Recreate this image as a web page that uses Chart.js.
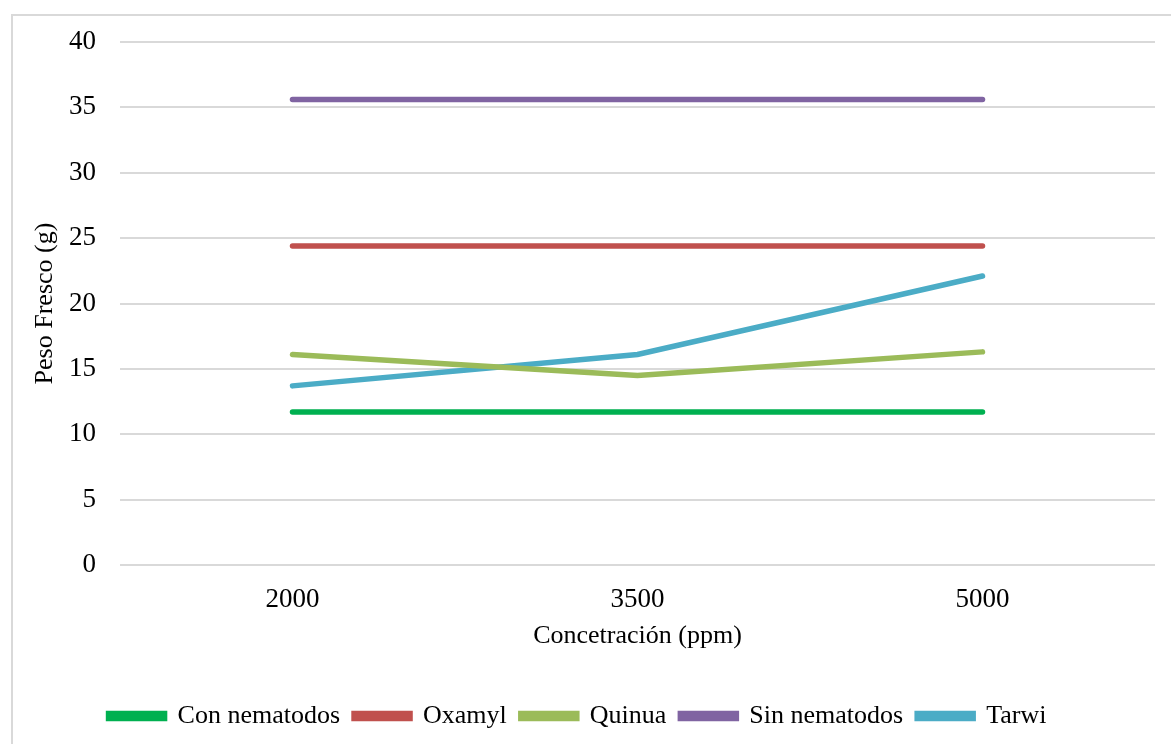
<!DOCTYPE html>
<html>
<head>
<meta charset="utf-8">
<script src="https://cdn.jsdelivr.net/npm/chart.js@4"></script>
<style>
  html, body { margin: 0; padding: 0; background: #fff; overflow: hidden; }
  #frame { position: absolute; left: 11px; top: 14px; width: 1200px; height: 800px; border: 2px solid #d9d9d9; }
  #wrap { position: absolute; left: 0; top: 0; width: 1171px; height: 744px; }
</style>
</head>
<body>
<div id="frame"></div>
<div id="wrap"><canvas id="pesoChart"></canvas></div>
<script>
// categories (ppm)
const concentraciones = ['2000', '3500', '5000'];

// peso fresco (g) per treatment
const conNematodos = [11.7, 11.7, 11.7];
const oxamyl = [24.4, 24.4, 24.4];
const quinua = [16.1, 14.5, 16.3];
const sinNematodos = [35.6, 35.6, 35.6];
const tarwi = [13.7, 16.1, 22.1];

const serif = '"Liberation Serif", "Times New Roman", serif';

function serie(label, data, color) {
    return {
        label: label,
        data: data,
        borderColor: color,
        backgroundColor: color,
        borderWidth: 5.5,
        borderCapStyle: 'round',
        pointRadius: 0,
        pointHoverRadius: 0,
        tension: 0
    };
}

const ctx = document.getElementById('pesoChart');

let pesoChart = new Chart(ctx, {
    type: 'line',
    data: {
        labels: concentraciones,
        datasets: [
            serie('Con nematodos', conNematodos, '#00b050'),
            serie('Oxamyl', oxamyl, '#c0504d'),
            serie('Quinua', quinua, '#9bbb59'),
            serie('Sin nematodos', sinNematodos, '#8064a2'),
            serie('Tarwi', tarwi, '#4bacc6')
        ]
    },
    options: {
        responsive: true,
        maintainAspectRatio: false,
        animation: false,
        layout: {
            padding: { left: 0, right: 16, top: 42, bottom: 5 }
        },
        plugins: {
            tooltip: { enabled: false },
            legend: {
                position: 'bottom',
                labels: {
                    font: { family: serif, size: 26 },
                    color: '#000',
                    boxWidth: 56,
                    boxHeight: 5,
                    padding: 14
                }
            }
        },
        scales: {
            x: {
                offset: true,
                grid: { display: false },
                border: { display: false },
                ticks: {
                    color: '#000',
                    font: { family: serif, size: 27 },
                    padding: 11
                },
                title: {
                    display: true,
                    text: 'Concetración (ppm)',
                    color: '#000',
                    font: { family: serif, size: 26 },
                    padding: { top: 2, bottom: 37 }
                },
                afterFit: (scale) => { scale.height = 124; }
            },
            y: {
                min: 0,
                max: 40,
                grid: { color: '#d9d9d9', lineWidth: 2, drawTicks: false },
                border: { display: false },
                ticks: {
                    stepSize: 5,
                    color: '#000',
                    font: { family: serif, size: 27 },
                    padding: 24
                },
                title: {
                    display: true,
                    text: 'Peso Fresco (g)',
                    color: '#000',
                    font: { family: serif, size: 26 },
                    padding: { top: 30, bottom: 0 }
                },
                afterFit: (scale) => { scale.width = 120; }
            }
        }
    }
});
</script>
</body>
</html>
